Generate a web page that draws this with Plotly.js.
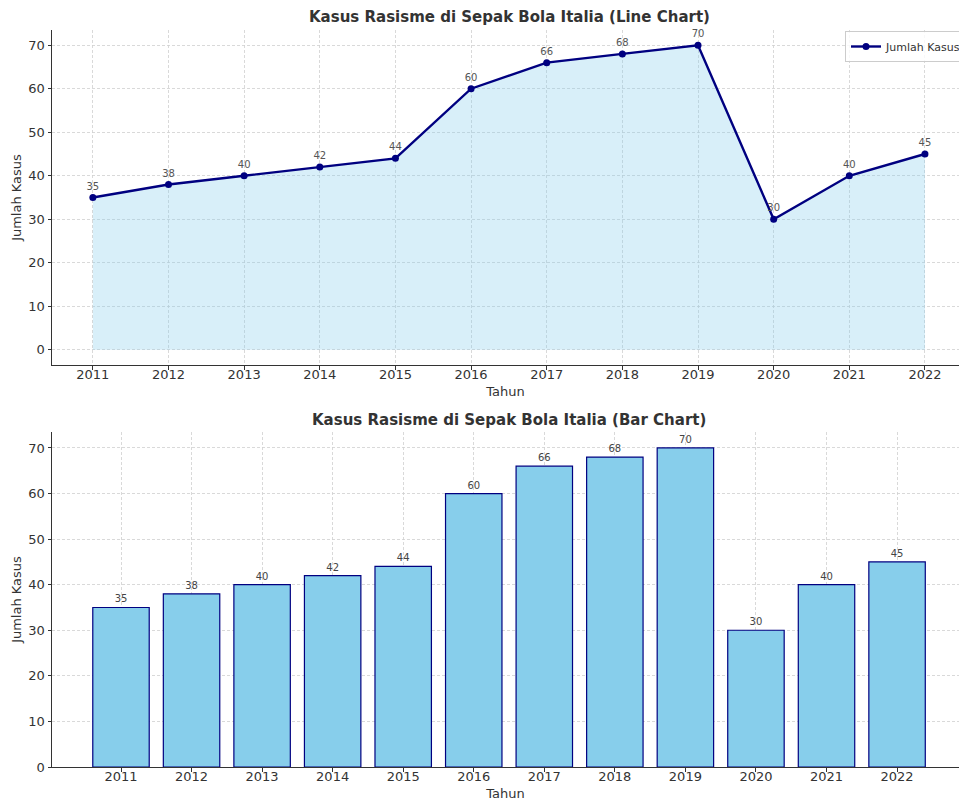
<!DOCTYPE html>
<html>
<head>
<meta charset="utf-8">
<script src="https://cdn.plot.ly/plotly-3.0.1.min.js"></script>
<style>html,body{margin:0;padding:0;background:#fff;}#chart{width:959px;height:801px;}</style>
</head>
<body>
<div id="chart"></div>
<script>
const years = [2011, 2012, 2013, 2014, 2015, 2016, 2017, 2018, 2019, 2020, 2021, 2022];
const cases = [35, 38, 40, 42, 44, 60, 66, 68, 70, 30, 40, 45];
const tickLabels = years.map(String);
const seriesName = "Jumlah Kasus";

const FONT = "DejaVu Sans, Arial, sans-serif";
const W = 959, H = 801;
const px = v => v / W;
const py = v => 1 - v / H;

const traces = [
  {
    x: years, y: cases, type: "scatter", mode: "none",
    fill: "tozeroy", fillcolor: "rgba(135,206,235,0.32)",
    showlegend: false, hoverinfo: "skip", xaxis: "x", yaxis: "y"
  },
  {
    x: years, y: cases, type: "scatter", mode: "lines+markers+text",
    name: seriesName,
    line: {color: "#000080", width: 2.4},
    marker: {color: "#000080", size: 7},
    text: cases.map(String), textposition: "top center",
    textfont: {family: FONT, size: 10, color: "#555"},
    cliponaxis: false,
    xaxis: "x", yaxis: "y"
  },
  {
    x: years, y: cases, type: "bar", name: seriesName, showlegend: false,
    width: 0.8,
    marker: {color: "#87CEEB", line: {color: "#000080", width: 1.2}},
    text: cases.map(String), textposition: "outside",
    textfont: {family: FONT, size: 10, color: "#444"},
    cliponaxis: false,
    xaxis: "x2", yaxis: "y2"
  }
];

const axCommon = {
  showline: true, linecolor: "#333", linewidth: 1,
  ticks: "outside", ticklen: 3.5, tickcolor: "#333",
  ticklabelstandoff: -6,
  showgrid: true, gridcolor: "#d0d0d0", griddash: "3px,2px", gridwidth: 0.8,
  zeroline: false,
  tickfont: {family: FONT, size: 13, color: "#333"}
};

const layout = {
  width: W, height: H,
  margin: {l: 0, r: 0, t: 0, b: 0, autoexpand: false},
  paper_bgcolor: "#fff", plot_bgcolor: "#fff",
  font: {family: FONT, color: "#333"},
  showlegend: true,
  legend: {
    x: px(845), y: py(31), xanchor: "left", yanchor: "top",
    bordercolor: "#ccc", borderwidth: 1, bgcolor: "rgba(255,255,255,0.8)",
    font: {family: FONT, size: 11, color: "#333"}
  },
  xaxis: Object.assign({}, axCommon, {
    domain: [px(52), 1], range: [2010.46, 2022.45],
    tickvals: years, ticktext: tickLabels, anchor: "y", automargin: false,
    title: {text: "Tahun", font: {family: FONT, size: 13, color: "#333"}, standoff: 5}
  }),
  yaxis: Object.assign({}, axCommon, {
    domain: [py(365), py(30)], range: [-3.5, 73.5],
    tickvals: [0, 10, 20, 30, 40, 50, 60, 70], anchor: "x", automargin: false,
    ticklabelstandoff: 0,
    title: {text: "Jumlah Kasus", font: {family: FONT, size: 13, color: "#333"}, standoff: 3}
  }),
  xaxis2: Object.assign({}, axCommon, {
    domain: [px(52), 1], range: [2010.022, 2022.878],
    tickvals: years, ticktext: tickLabels, anchor: "y2", automargin: false,
    title: {text: "Tahun", font: {family: FONT, size: 13, color: "#333"}, standoff: 5}
  }),
  yaxis2: Object.assign({}, axCommon, {
    domain: [py(767), py(432)], range: [0, 73.5],
    tickvals: [0, 10, 20, 30, 40, 50, 60, 70], anchor: "x2", automargin: false,
    ticklabelstandoff: 0,
    title: {text: "Jumlah Kasus", font: {family: FONT, size: 13, color: "#333"}, standoff: 3}
  }),
  annotations: [
    {text: "<b>Kasus Rasisme di Sepak Bola Italia (Line Chart)</b>", xref: "paper", yref: "paper",
     x: px(509), y: py(17), xanchor: "center", yanchor: "middle", showarrow: false,
     font: {family: FONT, size: 15, color: "#333"}},
    {text: "<b>Kasus Rasisme di Sepak Bola Italia (Bar Chart)</b>", xref: "paper", yref: "paper",
     x: px(509), y: py(420), xanchor: "center", yanchor: "middle", showarrow: false,
     font: {family: FONT, size: 15, color: "#333"}}
  ]
};

Plotly.newPlot("chart", traces, layout, {displayModeBar: false, staticPlot: true});
</script>
</body>
</html>
